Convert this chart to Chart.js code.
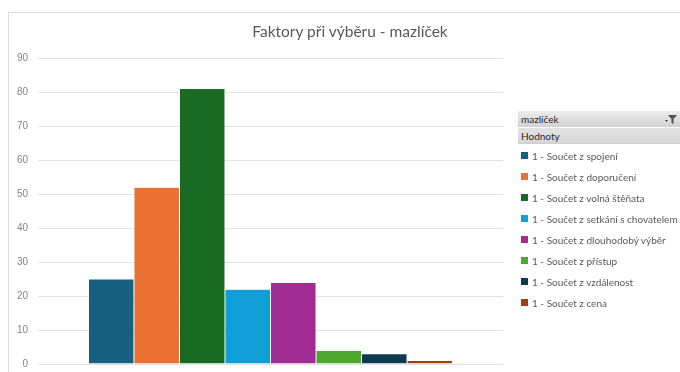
<!DOCTYPE html>
<html lang="cs">
<head>
<meta charset="utf-8">
<title>Faktory při výběru - mazlíček</title>
<script src="https://cdn.jsdelivr.net/npm/chart.js@4/dist/chart.umd.min.js"></script>
<style>
  html, body { margin: 0; padding: 0; background: #fff; overflow: hidden; }
  #wrap { position: relative; width: 680px; height: 372px; }
  #frame { position: absolute; left: 8px; top: 12px; width: 700px; height: 400px;
           border: 1px solid #d9d9d9; box-sizing: border-box; }
  canvas { position: absolute; left: 0; top: 0; }
  #title { position: absolute; left: 150px; width: 400px; top: 21px; text-align: center;
           font: 15.5px Lato, "Open Sans", sans-serif; color: #595959; line-height: 20px; }
  .hdr { position: absolute; left: 518px; width: 162px; height: 16px; box-sizing: border-box;
         font: 10px Lato, "Open Sans", sans-serif; color: #262626; padding-left: 3px; line-height: 16px; }
  #hdr1 { top: 111px; background: linear-gradient(#ececec, #d2d2d2); }
  #hdr2 { top: 128px; background: linear-gradient(#e4e4e4, #d6d6d6); border-bottom: 1px solid #cfcfcf; }
  #hdr1 svg { position: absolute; right: 2px; top: 3px; }
  #legend { position: absolute; left: 521px; top: 145px; margin: 0; padding: 0; list-style: none; }
  #legend li { height: 21px; display: flex; align-items: center;
               font: 10px Lato, "Open Sans", sans-serif; color: #595959; white-space: nowrap; }
  #legend li span.box { display: inline-block; width: 7px; height: 7px; margin-right: 4px; }
</style>
</head>
<body>
<div id="wrap">
  <div id="frame"></div>
  <canvas id="chart" width="680" height="372"></canvas>
  <div id="title">Faktory při výběru - mazlíček</div>
  <div class="hdr" id="hdr1">mazlíček
    <svg width="14" height="11" viewBox="0 0 14 11">
      <path d="M1 6 L4 6 L2.5 8 Z" fill="#404040"/>
      <path d="M4 1 L13 1 L9.5 5 L9.5 10 L7.5 9 L7.5 5 Z" fill="#505050"/>
    </svg>
  </div>
  <div class="hdr" id="hdr2">Hodnoty</div>
  <ul id="legend"></ul>
</div>
<script>
// Series names (one bar each) and their values
const seriesNames = [
  '1 - Součet z spojení',
  '1 - Součet z doporučení',
  '1 - Součet z volná štěňata',
  '1 - Součet z setkání s chovatelem',
  '1 - Součet z dlouhodobý výběr',
  '1 - Součet z přístup',
  '1 - Součet z vzdálenost',
  '1 - Součet z cena'
];
const seriesValues = [25, 52, 81, 22, 24, 4, 3, 1];
const seriesColors = ['#166082', '#e97132', '#196b24', '#0f9ed5', '#a02b93', '#4ea72e', '#0e3a50', '#a0440f'];
const categories = [''];
const yTicks = { min: 0, max: 90, step: 10 };

const datasets = seriesNames.map((name, i) => ({
  label: name,
  data: [seriesValues[i]],
  backgroundColor: seriesColors[i],
  borderColor: 'rgba(255,255,255,0.35)',
  borderWidth: 0.5,
  categoryPercentage: 0.783,
  barPercentage: 1.0
}));

const chart = new Chart(document.getElementById('chart'), {
  type: 'bar',
  data: { labels: categories, datasets },
  options: {
    responsive: false,
    animation: false,
    layout: { padding: { top: 58, right: 177, bottom: 8, left: 0 } },
    plugins: {
      legend: { display: false },
      tooltip: { enabled: false },
      title: { display: false }
    },
    scales: {
      x: { display: false },
      y: {
        min: yTicks.min,
        max: yTicks.max,
        border: { display: false },
        grid: { color: '#e2e2e2', lineWidth: 1, drawTicks: false },
        ticks: {
          stepSize: yTicks.step,
          color: '#858585',
          padding: 10,
          font: { family: '"Liberation Sans", Arial, sans-serif', size: 10 }
        },
        afterFit: (scale) => {
          scale.width = 38;
          scale.paddingTop = 0;
          scale.paddingBottom = 0;
        }
      }
    }
  }
});

// Build the side legend from the chart's own datasets
const ul = document.getElementById('legend');
chart.data.datasets.forEach(ds => {
  const li = document.createElement('li');
  const box = document.createElement('span');
  box.className = 'box';
  box.style.background = ds.backgroundColor;
  li.appendChild(box);
  li.appendChild(document.createTextNode(ds.label));
  ul.appendChild(li);
});
</script>
</body>
</html>
